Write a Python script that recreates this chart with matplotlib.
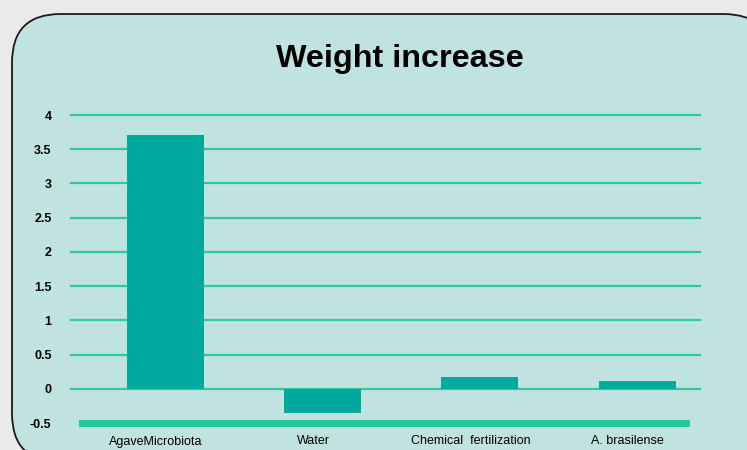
import matplotlib.pyplot as plt
from matplotlib.patches import FancyBboxPatch

# Data
categories = ['AgaveMicrobiota', 'Water', 'Chemical  fertilization', 'A. brasilense']
weight_increase = [3.71, -0.35, 0.17, 0.12]
y_ticks = [-0.5, 0, 0.5, 1, 1.5, 2, 2.5, 3, 3.5, 4]
y_tick_labels = ['-0.5', '0', '0.5', '1', '1.5', '2', '2.5', '3', '3.5', '4']

W, H = 747, 450
fig = plt.figure(figsize=(W / 100, H / 100), dpi=100)
fig.patch.set_facecolor('#eaeaea')

# rounded panel behind the chart
panel = FancyBboxPatch((12 / W, -12 / H), 760 / W, 448 / H,
                       boxstyle='round,pad=0,rounding_size=0.065',
                       transform=fig.transFigure, facecolor='#c1e3e0',
                       edgecolor='#1a1a1a', linewidth=1.3,
                       mutation_aspect=W / H, zorder=-5)
fig.patches.append(panel)

fig.text(400 / W, 1 - 67 / H, 'Weight increase', ha='center', va='baseline',
         fontsize=23.3, fontweight='bold', family='Liberation Sans')

ax = fig.add_axes([71 / W, 27 / H, 629 / W, 308 / H])
ax.set_facecolor('none')
ax.set_xlim(-0.6, 3.4)
ax.set_ylim(-0.5, 4)

for y in y_ticks[1:]:
    ax.axhline(y, color='#2dcb9c', linewidth=1.6, zorder=1, clip_on=False)
ax.axhline(-0.5, xmin=0.018, xmax=0.978, color='#22c99a', linewidth=5,
           zorder=2, clip_on=False)

x = list(range(len(categories)))
ax.bar(x, weight_increase, width=0.49, color='#00a99d', zorder=3)

ax.set_yticks(y_ticks)
ax.set_yticklabels(y_tick_labels, fontsize=9, fontweight='bold',
                   family='Liberation Sans')
# category labels sit a little left of the bars in the original
ax.set_xticks([i - 0.06 for i in x])
ax.set_xticklabels(categories, fontsize=9, family='Liberation Sans')
ax.tick_params(axis='y', length=0, pad=14)
ax.tick_params(axis='x', length=0, pad=9)
for s in ax.spines.values():
    s.set_visible(False)

fig.savefig('out.png', dpi=100, facecolor=fig.get_facecolor())
